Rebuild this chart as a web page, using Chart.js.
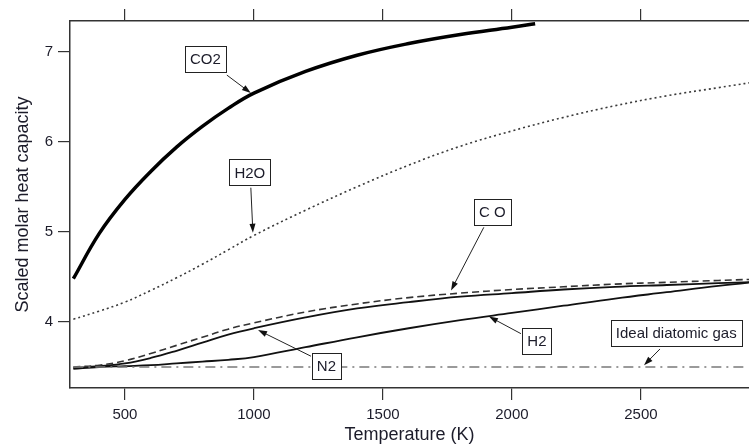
<!DOCTYPE html>
<html>
<head>
<meta charset="utf-8">
<script src="https://cdn.jsdelivr.net/npm/chart.js@4.4.1/dist/chart.umd.min.js"></script>
<style>
  html, body { margin: 0; padding: 0; background: #fff; }
  #wrap { width: 749px; height: 448px; }
</style>
</head>
<body>
<div id="wrap"><canvas id="chart" width="749" height="448"></canvas></div>
<script>
// temperatures (K) and scaled molar heat capacity Cp/R
const temps = [300, 400, 500, 600, 700, 800, 900, 1000, 1200, 1400, 1600, 1800, 2000, 2200, 2400, 2600, 2800, 3000];
const co2Temps = [300, 400, 500, 600, 700, 800, 900, 1000, 1200, 1400, 1600, 1800, 2000, 2090];
const co2 = [4.48, 4.98, 5.36, 5.67, 5.94, 6.17, 6.37, 6.54, 6.78, 6.96, 7.09, 7.19, 7.27, 7.31];
const h2o = [4.03, 4.12, 4.22, 4.35, 4.49, 4.64, 4.80, 4.96, 5.24, 5.50, 5.74, 5.95, 6.12, 6.27, 6.40, 6.51, 6.60, 6.69];
const co  = [3.50, 3.52, 3.57, 3.65, 3.74, 3.83, 3.92, 3.99, 4.11, 4.20, 4.27, 4.32, 4.36, 4.39, 4.42, 4.44, 4.46, 4.48];
const n2  = [3.49, 3.51, 3.54, 3.60, 3.68, 3.77, 3.86, 3.93, 4.05, 4.15, 4.22, 4.28, 4.32, 4.36, 4.39, 4.41, 4.43, 4.45];
const h2  = [3.48, 3.50, 3.51, 3.52, 3.54, 3.56, 3.58, 3.61, 3.72, 3.83, 3.93, 4.02, 4.10, 4.18, 4.26, 4.33, 4.40, 4.46];
const idealTemps = [300, 2900];
const ideal = [3.5, 3.5];

const xTicks = [500, 1000, 1500, 2000, 2500];
const yTicks = [4, 5, 6, 7];

// callout labels: box centre, arrow start, arrow tip (all in data units)
const notes = [
    { text: 'CO2', at: [812, 6.92], from: [895, 6.74], to: [988, 6.54] },
    { text: 'H2O', at: [984, 5.66], from: [988, 5.49], to: [996, 4.99] },
    { text: 'C O', at: [1924, 5.22], from: [1891, 5.05], to: [1764, 4.35] },
    { text: 'H2', at: [2097, 3.79], from: [2035, 3.87], to: [1911, 4.06] },
    { text: 'N2', at: [1281, 3.51], from: [1221, 3.62], to: [1016, 3.91] },
    { text: 'Ideal diatomic gas', at: [2637, 3.88], from: [2574, 3.70], to: [2512, 3.52] }
];

const pts = (xs, ys) => xs.map((x, i) => ({ x: x, y: ys[i] }));
const FONT = '"Liberation Sans", Arial, sans-serif';

const calloutPlugin = {
    id: 'callouts',
    afterDatasetsDraw(chart) {
        const ctx = chart.ctx;
        const xs = chart.scales.x;
        const ys = chart.scales.y;
        ctx.save();
        ctx.font = '15px ' + FONT;
        notes.forEach(n => {
            const x0 = xs.getPixelForValue(n.from[0]), y0 = ys.getPixelForValue(n.from[1]);
            const x1 = xs.getPixelForValue(n.to[0]), y1 = ys.getPixelForValue(n.to[1]);
            const ang = Math.atan2(y1 - y0, x1 - x0);
            const head = 9, half = 3;
            // shaft
            ctx.strokeStyle = '#222';
            ctx.lineWidth = 1;
            ctx.beginPath();
            ctx.moveTo(x0, y0);
            ctx.lineTo(x1 - Math.cos(ang) * head * 0.8, y1 - Math.sin(ang) * head * 0.8);
            ctx.stroke();
            // head
            ctx.fillStyle = '#111';
            ctx.beginPath();
            ctx.moveTo(x1, y1);
            ctx.lineTo(x1 - Math.cos(ang) * head - Math.sin(ang) * half, y1 - Math.sin(ang) * head + Math.cos(ang) * half);
            ctx.lineTo(x1 - Math.cos(ang) * head + Math.sin(ang) * half, y1 - Math.sin(ang) * head - Math.cos(ang) * half);
            ctx.closePath();
            ctx.fill();

            // box
            const cx = xs.getPixelForValue(n.at[0]), cy = ys.getPixelForValue(n.at[1]);
            const w = ctx.measureText(n.text).width + 10;
            const h = 26;
            ctx.fillStyle = '#fff';
            ctx.fillRect(cx - w / 2, cy - h / 2, w, h);
            ctx.strokeStyle = '#222';
            ctx.strokeRect(Math.round(cx - w / 2) + 0.5, Math.round(cy - h / 2) + 0.5, Math.round(w), h);
            ctx.fillStyle = '#1c1c2a';
            ctx.textAlign = 'center';
            ctx.textBaseline = 'middle';
            ctx.fillText(n.text, cx, cy + 1);
        });
        ctx.restore();
    }
};

const ctx = document.getElementById('chart').getContext('2d');
new Chart(ctx, {
    type: 'line',
    data: {
        datasets: [
            {
                label: 'Ideal diatomic gas',
                data: pts(idealTemps, ideal),
                borderColor: '#7a7a7a',
                borderWidth: 1.6,
                borderDash: [10, 5, 2, 5],
                pointRadius: 0
            },
            {
                label: 'H2O',
                data: pts(temps, h2o),
                borderColor: '#3a3a3a',
                borderWidth: 1.6,
                borderDash: [2, 3],
                pointRadius: 0,
                tension: 0.4
            },
            {
                label: 'CO',
                data: pts(temps, co),
                borderColor: '#333',
                borderWidth: 1.6,
                borderDash: [7, 4],
                pointRadius: 0,
                tension: 0.4
            },
            {
                label: 'N2',
                data: pts(temps, n2),
                borderColor: '#111',
                borderWidth: 1.8,
                pointRadius: 0,
                tension: 0.4
            },
            {
                label: 'H2',
                data: pts(temps, h2),
                borderColor: '#111',
                borderWidth: 1.8,
                pointRadius: 0,
                tension: 0.4
            },
            {
                label: 'CO2',
                data: pts(co2Temps, co2),
                borderColor: '#000',
                borderWidth: 3.5,
                pointRadius: 0,
                tension: 0.4
            }
        ]
    },
    options: {
        responsive: false,
        animation: false,
        devicePixelRatio: 1,
        layout: { padding: 0 },
        plugins: {
            legend: { display: false },
            tooltip: { enabled: false }
        },
        scales: {
            x: {
                type: 'linear',
                position: 'bottom',
                min: 287,
                max: 2919,
                afterFit: s => { s.height = 60; },
                afterBuildTicks: s => { s.ticks = xTicks.map(v => ({ value: v })); },
                grid: { drawOnChartArea: false, tickLength: 12, color: '#333', lineWidth: 1.2 },
                border: { color: '#333', width: 1.5 },
                ticks: {
                    font: { family: FONT, size: 15 },
                    color: '#1c1c2a',
                    padding: 6,
                    maxRotation: 0,
                    callback: v => String(v)
                },
                title: {
                    display: true,
                    text: 'Temperature (K)',
                    font: { family: FONT, size: 18 },
                    color: '#1c1c2a',
                    padding: { top: 0, bottom: 2 }
                }
            },
            x2: {
                type: 'linear',
                axis: 'x',
                position: 'top',
                min: 287,
                max: 2919,
                afterFit: s => { s.height = 21; },
                afterBuildTicks: s => { s.ticks = xTicks.map(v => ({ value: v })); },
                grid: { drawOnChartArea: false, tickLength: 12, color: '#333', lineWidth: 1.2 },
                border: { color: '#333', width: 1.5 },
                ticks: { display: false }
            },
            y: {
                type: 'linear',
                min: 3.267,
                max: 7.34,
                afterFit: s => { s.width = 70; },
                afterBuildTicks: s => { s.ticks = yTicks.map(v => ({ value: v })); },
                grid: { drawOnChartArea: false, tickLength: 12, color: '#333', lineWidth: 1.2 },
                border: { color: '#333', width: 1.5 },
                ticks: {
                    font: { family: FONT, size: 15 },
                    color: '#1c1c2a',
                    padding: 5,
                    callback: v => String(v)
                },
                title: {
                    display: true,
                    text: 'Scaled molar heat capacity',
                    font: { family: FONT, size: 18 },
                    color: '#1c1c2a',
                    padding: { top: 12, bottom: 0 }
                }
            }
        }
    },
    plugins: [calloutPlugin]
});
</script>
</body>
</html>
